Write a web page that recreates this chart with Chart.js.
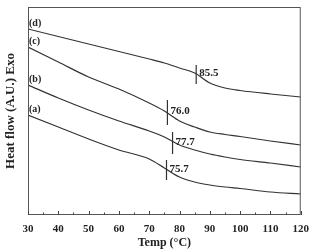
<!DOCTYPE html>
<html>
<head>
<meta charset="utf-8">
<script src="https://cdn.jsdelivr.net/npm/chart.js@4"></script>
<style>
  html, body { margin: 0; padding: 0; background: #fff; }
  #wrap { width: 317px; height: 250px; }
</style>
</head>
<body>
<div id="wrap"><canvas id="myChart" width="317" height="250"></canvas></div>
<script>
// temperatures (°C) where the curves are sampled
var temps = [30, 40, 50, 60, 70, 75, 80, 85, 90, 95, 100, 110, 120];
// heat flow, arbitrary units (stacked curves a..d)
var curveA = [100, 88, 76, 65, 56, 47, 38, 33, 30, 28, 26.5, 23, 21];
var curveB = [130, 117, 105, 94, 84, 78, 70, 65, 61, 58, 55.5, 52, 48];
var curveC = [168, 153, 138, 126, 112, 104, 94, 88, 83, 80.5, 78.5, 74, 70];
var curveD = [186, 178.5, 171, 163.5, 156, 152, 147, 142, 132, 127, 124.5, 121, 118];
var curveNames = ["(a)", "(b)", "(c)", "(d)"];
// glass transition marks: temperature, marker bottom / top
var tgTemps = [75.7, 77.7, 76.0, 85.5];
var tgLow = [35, 61, 90, 131];
var tgHigh = [55, 83, 115, 150];
var xTicks = [30, 40, 50, 60, 70, 80, 90, 100, 110, 120];

var serif = "'Liberation Serif', 'DejaVu Serif', serif";
var lineColor = "#333";

function toPts(ys) {
  return temps.map(function (t, i) { return { x: t, y: ys[i] }; });
}

var datasets = [curveA, curveB, curveC, curveD].map(function (c, i) {
  return {
    label: curveNames[i],
    data: toPts(c),
    borderColor: lineColor,
    borderWidth: 1.2,
    pointRadius: 0,
    cubicInterpolationMode: "monotone",
    fill: false
  };
});
tgTemps.forEach(function (t, i) {
  datasets.push({
    label: "tg" + i,
    data: [{ x: t, y: tgLow[i] }, { x: t, y: tgHigh[i] }],
    borderColor: lineColor,
    borderWidth: 1.2,
    pointRadius: 0,
    fill: false
  });
});

// frame, inward ticks, curve letters and Tg numbers
var decor = {
  id: "decor",
  afterDatasetsDraw: function (chart) {
    var ctx = chart.ctx;
    var a = chart.chartArea;
    var x = chart.scales.x, y = chart.scales.y;
    ctx.save();
    ctx.strokeStyle = "#555";
    ctx.lineWidth = 1;
    ctx.strokeRect(a.left + 0.5, a.top + 0.5, a.right - a.left - 1, a.bottom - a.top - 1);
    ctx.strokeStyle = "#444";
    for (var t = 30; t <= 120; t += 5) {
      var px = Math.round(x.getPixelForValue(t)) + 0.5;
      var len = t % 10 === 0 ? 4 : 2.5;
      ctx.beginPath();
      ctx.moveTo(px, a.bottom);
      ctx.lineTo(px, a.bottom - len);
      ctx.stroke();
    }
    ctx.fillStyle = "#222";
    ctx.font = "bold 10px " + serif;
    ctx.textBaseline = "middle";
    ctx.textAlign = "left";
    var starts = [curveA[0], curveB[0], curveC[0], curveD[0]];
    starts.forEach(function (v, i) {
      ctx.fillText(curveNames[i], a.left + 1, y.getPixelForValue(v) - 6);
    });
    ctx.font = "bold 11px " + serif;
    tgTemps.forEach(function (t, i) {
      var px = x.getPixelForValue(t) + 3;
      var py = y.getPixelForValue((tgLow[i] + tgHigh[i]) / 2) - 1;
      ctx.fillText(t.toFixed(1), px, py);
    });
    ctx.restore();
  }
};

var ctx = document.getElementById("myChart").getContext("2d");
var chart = new Chart(ctx, {
  type: "line",
  data: { datasets: datasets },
  options: {
    responsive: false,
    animation: false,
    layout: { padding: { top: 7, right: 7, left: 0, bottom: 0 } },
    plugins: { legend: { display: false }, tooltip: { enabled: false } },
    scales: {
      x: {
        type: "linear",
        min: 30,
        max: 120,
        afterBuildTicks: function (s) {
          s.ticks = xTicks.map(function (v) { return { value: v }; });
        },
        afterFit: function (s) { s.height = 35; },
        grid: { display: false, drawTicks: false },
        border: { display: false },
        ticks: {
          color: "#222",
          padding: 8,
          maxRotation: 0,
          font: { family: serif, size: 11, weight: "bold" }
        },
        title: {
          display: true,
          text: "Temp (°C)",
          color: "#222",
          padding: { top: 0, bottom: 0 },
          font: { family: serif, size: 12, weight: "bold" }
        }
      },
      y: {
        type: "linear",
        min: 0,
        max: 208,
        afterFit: function (s) { s.width = 28; },
        grid: { display: false, drawTicks: false },
        border: { display: false },
        ticks: { display: false },
        title: {
          display: true,
          text: "Heat flow (A.U.) Exo",
          color: "#222",
          padding: { top: 3, bottom: 0 },
          font: { family: serif, size: 13, weight: "bold" }
        }
      }
    }
  },
  plugins: [decor]
});
</script>
</body>
</html>
